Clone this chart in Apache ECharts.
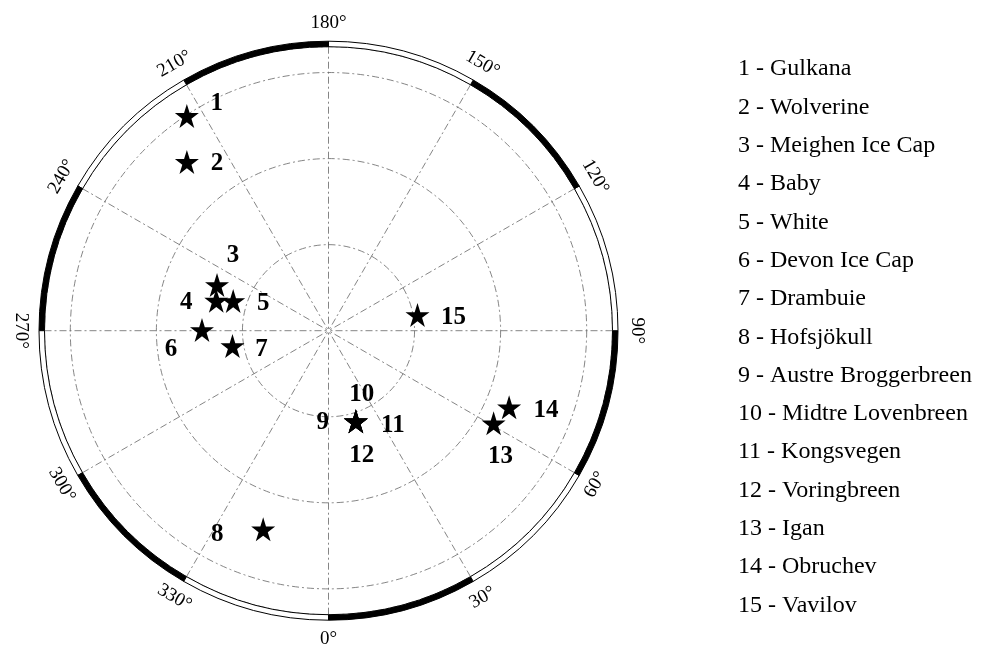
<!DOCTYPE html>
<html>
<head>
<meta charset="utf-8">
<script src="https://cdn.jsdelivr.net/npm/echarts@6/dist/echarts.min.js"></script>
<style>
  html, body { margin: 0; padding: 0; background: #fff; }
  #chart { width: 985px; height: 645px; }
</style>
</head>
<body>
<div id="chart"></div>
<script>
// glacier sites, longitude as on the map (0-360), latitude in degrees N
var glaciers = ['Gulkana', 'Wolverine', 'Meighen Ice Cap', 'Baby', 'White', 'Devon Ice Cap', 'Drambuie',
  'Hofsjökull', 'Austre Broggerbreen', 'Midtre Lovenbreen', 'Kongsvegen', 'Voringbreen', 'Igan', 'Obruchev', 'Vavilov'];
var longitudes = [213.4, 220.0, 247.7, 255.0, 252.7, 269.7, 279.1, 341.8, 16.8, 16.8, 16.8, 16.8, 60.7, 67.0, 100.0];
var latitudes = [60.1, 64.4, 76.0, 76.5, 78.4, 75.3, 78.7, 65.7, 79.0, 79.0, 79.0, 79.0, 68.0, 67.2, 79.5];

// meridian labels round the frame
var tickAngles = [0, 30, 60, 90, 120, 150, 180, 210, 240, 270, 300, 330];
var tickLabels = ['0°', '30°', '60°', '90°', '120°', '150°', '180°', '210°', '240°', '270°', '300°', '330°'];

// where each number sits next to its star (px)
var labelOffsets = [[30, -12], [30, 2], [16, -29], [-30, 2], [30, 3], [-31, 20], [29, 3], [-46, 5],
  [-33, 1], [6, -27], [37, 4], [6, 34], [7, 33], [37, 3], [36, 3]];

var center = [328.5, 330.7];
var serif = '"Liberation Serif", "Times New Roman", serif';
var starPath = 'path://M50,0 L61.2,34.5 L97.6,34.5 L68.2,55.9 L79.4,90.5 L50,69.1 L20.6,90.5 L31.8,55.9 L2.4,34.5 L38.8,34.5 Z';
var dashDot = [7, 3, 2, 3];

var myChart = echarts.init(document.getElementById('chart'), null, { renderer: 'canvas' });

var option = {
  animation: false,
  backgroundColor: '#fff',
  title: {
    left: 733,
    top: 45,
    text: glaciers.map(function (n, i) { return (i + 1) + ' - ' + n; }).join('\n'),
    textStyle: {
      fontFamily: serif,
      fontWeight: 'normal',
      fontSize: 24,
      lineHeight: 38.3,
      color: '#000'
    }
  },
  polar: [
    { center: center, radius: 284 },
    { center: center, radius: [284, 289.5] },
    { center: center, radius: 308 }
  ],
  angleAxis: [
    {
      polarIndex: 0,
      type: 'value',
      min: 0,
      max: 360,
      interval: 30,
      startAngle: 270,
      clockwise: false,
      axisLine: { show: false },
      axisTick: { show: false },
      axisLabel: { show: false },
      splitLine: { show: true, lineStyle: { color: '#666', width: 0.8, type: dashDot } }
    },
    {
      polarIndex: 1,
      type: 'category',
      data: tickLabels,
      startAngle: 270,
      clockwise: false,
      boundaryGap: true,
      axisLine: { show: false },
      axisTick: { show: false },
      axisLabel: { show: false },
      splitLine: { show: false }
    },
    {
      polarIndex: 2,
      type: 'value',
      min: 0,
      max: 360,
      startAngle: 270,
      clockwise: false,
      axisLine: { show: false },
      axisTick: { show: false },
      axisLabel: { show: false },
      splitLine: { show: false }
    }
  ],
  radiusAxis: [
    {
      polarIndex: 0,
      type: 'value',
      min: 0,
      max: 33,
      interval: 10,
      axisLine: { show: false },
      axisTick: { show: false },
      axisLabel: { show: false },
      splitLine: { show: true, lineStyle: { color: '#666', width: 0.8, type: dashDot } }
    },
    {
      polarIndex: 1,
      type: 'value',
      min: 0,
      max: 1,
      axisLine: { show: false },
      axisTick: { show: false },
      axisLabel: { show: false },
      splitLine: { show: false }
    },
    {
      polarIndex: 2,
      type: 'value',
      min: 0,
      max: 1,
      axisLine: { show: false },
      axisTick: { show: false },
      axisLabel: { show: false },
      splitLine: { show: false }
    }
  ],
  series: [
    {
      // black / white frame
      type: 'bar',
      coordinateSystem: 'polar',
      polarIndex: 1,
      barCategoryGap: '0%',
      silent: true,
      itemStyle: { borderColor: '#000', borderWidth: 1, opacity: 1 },
      data: tickAngles.map(function (a, i) {
        return { value: 1, itemStyle: { color: i % 2 === 0 ? '#000' : '#fff' } };
      })
    },
    {
      // degree labels
      type: 'scatter',
      coordinateSystem: 'polar',
      polarIndex: 2,
      symbolSize: 1,
      silent: true,
      itemStyle: { color: 'rgba(0,0,0,0)', opacity: 1 },
      label: {
        show: true,
        position: 'inside',
        fontFamily: serif,
        fontSize: 19,
        color: '#000',
        formatter: function (p) { return tickLabels[p.dataIndex]; }
      },
      data: tickAngles.map(function (a) {
        return { value: [1, a], label: { rotate: ((a + 90) % 180) - 90 } };
      })
    },
    {
      // glacier sites
      type: 'scatter',
      coordinateSystem: 'polar',
      polarIndex: 0,
      symbol: starPath,
      symbolSize: 24,
      itemStyle: { color: '#000', opacity: 1 },
      label: {
        show: true,
        position: 'inside',
        fontFamily: serif,
        fontWeight: 'bold',
        fontSize: 25,
        color: '#000',
        formatter: function (p) { return String(p.dataIndex + 1); }
      },
      data: glaciers.map(function (n, i) {
        return {
          name: n,
          value: [90 - latitudes[i], longitudes[i]],
          label: { offset: labelOffsets[i] }
        };
      })
    }
  ]
};

option && myChart.setOption(option);
</script>
</body>
</html>
